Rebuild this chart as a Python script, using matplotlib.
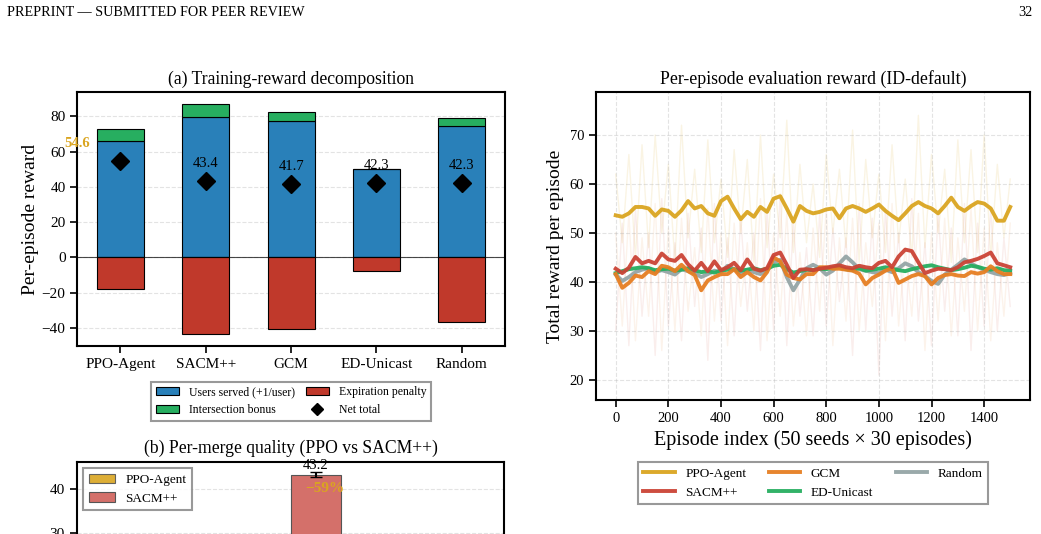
import matplotlib
matplotlib.use("Agg")
import matplotlib.pyplot as plt
from matplotlib.lines import Line2D
import numpy as np

plt.rcParams['font.family'] = ['Liberation Serif', 'DejaVu Serif']
plt.rcParams['mathtext.fontset'] = 'stix'

# ---- (a) training-reward decomposition ----
methods = ['PPO-Agent', 'SACM++', 'GCM', 'ED-Unicast', 'Random']
users_served = [66.2, 79.4, 77.0, 49.9, 74.2]
intersection_bonus = [6.4, 7.6, 5.1, 0.1, 4.9]
expiration_penalty = [-17.9, -43.5, -40.5, -7.7, -36.7]
net_total = [54.6, 43.4, 41.7, 42.3, 42.3]

# ---- (b) per-merge quality ----
merge_metrics = ['Users per merge', 'Reward per merge', 'Bonus per merge']
merge_ppo = [4.1, 17.7, 1.2]
merge_sacm = [6.3, 43.2, 2.0]
merge_sacm_err = [0.3, 0.5, 0.1]
merge_ppo_err = [0.2, 0.4, 0.1]

# ---- right: per-episode evaluation reward (smoothed, every 25 episodes) ----
episodes = np.append(np.arange(0, 1500, 25), 1499)
ppo_smooth = [53.6, 53.3, 54.0, 55.3, 55.3, 55.0, 53.5, 54.8, 54.5, 53.3,
              54.6, 56.5, 55.0, 55.5, 54.0, 53.5, 56.5, 57.4, 55.0, 52.8,
              54.3, 53.3, 55.3, 54.3, 57.0, 57.5, 55.0, 52.3, 55.5, 54.5,
              54.0, 54.3, 54.8, 55.0, 53.0, 55.0, 55.5, 55.0, 54.3, 55.0,
              55.8, 54.5, 53.5, 52.6, 54.0, 55.5, 56.3, 55.5, 55.0, 54.0,
              55.5, 57.2, 55.3, 54.5, 55.5, 56.3, 56.0, 55.0, 52.5, 52.5, 55.3]
sacm_smooth = [42.7, 41.8, 42.9, 45.1, 43.8, 44.3, 43.8, 45.8, 44.6, 44.3,
               45.5, 43.6, 42.3, 43.9, 42.2, 44.2, 42.4, 43.0, 43.9, 42.4,
               44.6, 42.7, 42.3, 42.8, 45.5, 46.0, 43.5, 40.8, 42.5, 42.6,
               42.4, 42.7, 42.9, 43.2, 43.4, 43.0, 42.8, 43.3, 43.0, 42.8,
               43.9, 44.3, 43.0, 45.2, 46.6, 46.3, 44.0, 41.8, 42.3, 42.7,
               42.6, 42.4, 43.0, 44.0, 44.3, 44.7, 45.3, 46.0, 43.8, 43.4, 43.0]
gcm_smooth = [41.6, 38.8, 39.8, 41.3, 41.0, 42.2, 41.6, 43.3, 43.0, 42.2,
              43.5, 42.2, 41.4, 38.3, 40.3, 41.0, 41.6, 41.6, 42.6, 41.0,
              42.0, 41.0, 40.3, 42.0, 45.0, 44.2, 41.5, 40.8, 40.5, 41.6,
              41.6, 43.0, 43.0, 42.7, 42.7, 42.5, 42.3, 41.7, 39.5, 40.8,
              41.5, 42.3, 42.8, 39.8, 40.5, 41.2, 41.6, 41.2, 39.5, 40.8,
              41.4, 41.6, 41.3, 41.2, 42.0, 41.7, 42.0, 43.2, 42.2, 41.6, 41.6]
ed_smooth = [41.8, 42.2, 42.6, 42.8, 43.0, 42.8, 42.4, 42.6, 42.7, 42.3,
             42.5, 42.8, 42.4, 42.0, 42.2, 41.9, 42.3, 42.5, 42.6, 42.3,
             42.5, 42.8, 42.4, 42.7, 43.3, 43.5, 42.6, 41.9, 42.2, 42.5,
             42.4, 42.7, 42.6, 42.9, 43.0, 42.6, 42.4, 42.8, 42.3, 42.5,
             42.7, 43.0, 42.7, 42.4, 42.2, 42.6, 42.9, 43.2, 43.4, 43.0,
             42.7, 42.4, 42.6, 42.9, 43.3, 43.1, 42.7, 42.5, 42.8, 42.4, 42.3]
rand_smooth = [41.5, 40.2, 41.0, 42.0, 42.5, 42.8, 42.0, 42.4, 42.0, 41.5,
               42.6, 42.2, 41.8, 41.0, 41.6, 42.3, 42.0, 43.3, 42.6, 41.8,
               42.5, 42.0, 41.6, 42.4, 44.0, 44.5, 41.0, 38.3, 40.5, 42.8,
               43.5, 42.8, 41.5, 42.3, 43.8, 45.2, 44.0, 42.6, 42.3, 42.0,
               41.8, 42.5, 42.0, 42.8, 43.8, 43.2, 42.0, 41.2, 40.2, 39.6,
               41.5, 42.5, 43.5, 44.6, 43.8, 43.0, 42.5, 42.0, 41.6, 41.4, 41.8]
# faint raw per-episode traces (rough spread read off the haze)
ppo_raw = [62, 48, 66, 45, 68, 47, 70, 50, 64, 44, 72, 49, 63, 46, 69, 48,
           61, 45, 67, 50, 65, 44, 70, 47, 62, 49, 73, 46, 64, 48, 60, 45,
           66, 50, 63, 47, 71, 44, 65, 49, 62, 46, 68, 48, 61, 45, 74, 47,
           66, 50, 63, 44, 69, 48, 67, 46, 70, 45, 64, 49, 61]
sacm_raw = [30, 52, 27, 55, 33, 50, 25, 57, 31, 48, 28, 54, 35, 51, 24, 56,
            32, 49, 29, 53, 34, 50, 26, 55, 30, 58, 27, 52, 33, 47, 29, 54,
            31, 51, 36, 49, 25, 56, 30, 53, 21, 55, 33, 50, 28, 57, 32, 48,
            27, 54, 34, 51, 29, 56, 26, 52, 31, 55, 30, 49, 35]
gcm_raw = [50, 31, 54, 28, 49, 33, 56, 26, 51, 30, 53, 34, 47, 29, 55, 32,
           50, 27, 52, 35, 48, 30, 57, 28, 50, 33, 54, 31, 46, 29, 51, 34,
           55, 27, 49, 32, 53, 30, 48, 35, 52, 28, 56, 31, 47, 33, 54, 26,
           50, 32, 53, 29, 49, 34, 55, 30, 51, 28, 48, 33, 52]

C_BLUE, C_RED, C_GREEN = '#2980B9', '#C0392B', '#27AE60'
C_PPO, C_SACM, C_GCM, C_ED, C_RAND = '#DAA520', '#CB4335', '#E67E22', '#27AE60', '#95A5A6'

fig = plt.figure(figsize=(10.41, 5.34), dpi=100)
fig.text(0.007, 0.977, 'PREPRINT — SUBMITTED FOR PEER REVIEW', fontsize=10.2, va='center', ha='left')
fig.text(0.992, 0.977, '32', fontsize=10.2, va='center', ha='right')

# ---------------- (a) ----------------
ax1 = fig.add_axes([0.0743, 0.3526, 0.4106, 0.4745])
x = np.arange(len(methods))
w = 0.55
b_users = ax1.bar(x, users_served, w, color=C_BLUE, edgecolor='black', linewidth=0.8, zorder=2)
b_bonus = ax1.bar(x, intersection_bonus, w, bottom=users_served, color=C_GREEN, edgecolor='black',
                  linewidth=0.8, zorder=2)
b_pen = ax1.bar(x, expiration_penalty, w, color=C_RED, edgecolor='black', linewidth=0.8, zorder=2)
ax1.plot(x, net_total, 'D', color='black', markersize=9, zorder=4)
for i, v in enumerate(net_total):
    if i == 0:
        ax1.text(i - 0.51, v + 10, f'{v:.1f}', ha='center', va='center', fontsize=10.5,
                 fontweight='bold', color=C_PPO, zorder=5)
    else:
        ax1.text(i, v + 10, f'{v:.1f}', ha='center', va='center', fontsize=10.5, zorder=5)
ax1.axhline(0, color='black', linewidth=0.8, alpha=0.7, zorder=3)
ax1.set_xticks(x)
ax1.set_xticklabels(methods, fontsize=11)
ax1.tick_params(axis='y', labelsize=11)
ax1.tick_params(length=5, width=1.2)
ax1.set_ylabel('Per-episode reward', fontsize=14, labelpad=2)
ax1.set_title('(a) Training-reward decomposition', fontsize=12.7)
ax1.grid(axis='y', linestyle='--', alpha=0.35, zorder=0)
ax1.set_axisbelow(True)
for s in ax1.spines.values():
    s.set_linewidth(1.5)
net_handle = Line2D([], [], marker='D', color='black', linestyle='none', markersize=6)
leg1 = ax1.legend([b_users, b_bonus, b_pen, net_handle],
                  ['Users served (+1/user)', 'Intersection bonus', 'Expiration penalty', 'Net total'],
                  ncol=2, fontsize=8.5, loc='upper center', bbox_to_anchor=(0.5, -0.142),
                  borderaxespad=0, fancybox=False, edgecolor='gray', columnspacing=0.9)
leg1.get_frame().set_linewidth(1.5)

# ---------------- (b) (cropped at the bottom of the page) ----------------
ax2 = fig.add_axes([0.0737, -0.2448, 0.4108, 0.3801])
xb = np.arange(len(merge_metrics))
wb = 0.35
ax2.bar(xb - wb / 2, merge_ppo, wb, yerr=merge_ppo_err, capsize=4, color=C_PPO, alpha=0.9,
        edgecolor='#555555', linewidth=0.8, label='PPO-Agent', zorder=2)
ax2.bar(xb + wb / 2, merge_sacm, wb, yerr=merge_sacm_err, capsize=4, color='#D4706A',
        edgecolor='#555555', linewidth=0.8, label='SACM++', zorder=2)
k = int(np.argmax(merge_sacm))
ax2.text(xb[k] + wb / 2, merge_sacm[k] + merge_sacm_err[k] + 1.5, f'{merge_sacm[k]:.1f}',
         ha='center', va='center', fontsize=10.5)
pct = (merge_ppo[k] - merge_sacm[k]) / merge_sacm[k] * 100
ax2.text(xb[k] + 0.24, merge_sacm[k] - 3.1, f'\u2212{abs(pct):.0f}%', ha='center', va='center',
         fontsize=11, fontweight='bold', color=C_PPO)
ax2.set_xticks(xb)
ax2.tick_params(axis='x', labelbottom=False)
ax2.set_ylim(0, 46.1)
ax2.set_yticks([30, 40])
ax2.tick_params(axis='y', labelsize=11)
ax2.tick_params(length=5, width=1.2)
ax2.set_title('(b) Per-merge quality (PPO vs SACM++)', fontsize=12.7)
ax2.grid(axis='y', linestyle='--', alpha=0.35, zorder=0)
ax2.set_axisbelow(True)
for s in ax2.spines.values():
    s.set_linewidth(1.5)
leg2 = ax2.legend(loc='upper left', fontsize=9.5, fancybox=False, edgecolor='gray')
leg2.get_frame().set_linewidth(1.5)

# ---------------- right ----------------
ax3 = fig.add_axes([0.5725, 0.2509, 0.4169, 0.5762])
ax3.plot(episodes, ppo_raw, color=C_PPO, alpha=0.12, linewidth=1.0, zorder=1)
ax3.plot(episodes, sacm_raw, color=C_SACM, alpha=0.09, linewidth=1.0, zorder=1)
ax3.plot(episodes, gcm_raw, color=C_GCM, alpha=0.09, linewidth=1.0, zorder=1)
ax3.plot(episodes, ppo_smooth, color=C_PPO, linewidth=2.8, alpha=0.95, label='PPO-Agent', zorder=5)
ax3.plot(episodes, sacm_smooth, color=C_SACM, linewidth=2.8, alpha=0.95, label='SACM++', zorder=6)
ax3.plot(episodes, gcm_smooth, color=C_GCM, linewidth=2.8, alpha=0.95, label='GCM', zorder=4)
ax3.plot(episodes, ed_smooth, color=C_ED, linewidth=2.8, alpha=0.95, label='ED-Unicast', zorder=3)
ax3.plot(episodes, rand_smooth, color=C_RAND, linewidth=2.8, alpha=0.95, label='Random', zorder=2)
ax3.set_xlim(-75, 1574)
ax3.set_ylim(15.9, 78.7)
ax3.set_xticks(np.arange(0, 1401, 200))
ax3.set_yticks(np.arange(20, 71, 10))
ax3.tick_params(labelsize=10.5, length=5, width=1.2)
ax3.grid(True, linestyle='--', alpha=0.35)
ax3.set_xlabel('Episode index (50 seeds × 30 episodes)', fontsize=14.5)
ax3.set_ylabel('Total reward per episode', fontsize=14)
ax3.set_title('Per-episode evaluation reward (ID-default)', fontsize=12.8)
for s in ax3.spines.values():
    s.set_linewidth(1.5)
leg3 = ax3.legend(ncol=3, fontsize=9.5, loc='upper center', bbox_to_anchor=(0.5, -0.2025),
                  borderaxespad=0, fancybox=False, edgecolor='gray', columnspacing=1.7,
                  handlelength=2.4)
leg3.get_frame().set_linewidth(1.5)

fig.savefig('out.png', dpi=100)
